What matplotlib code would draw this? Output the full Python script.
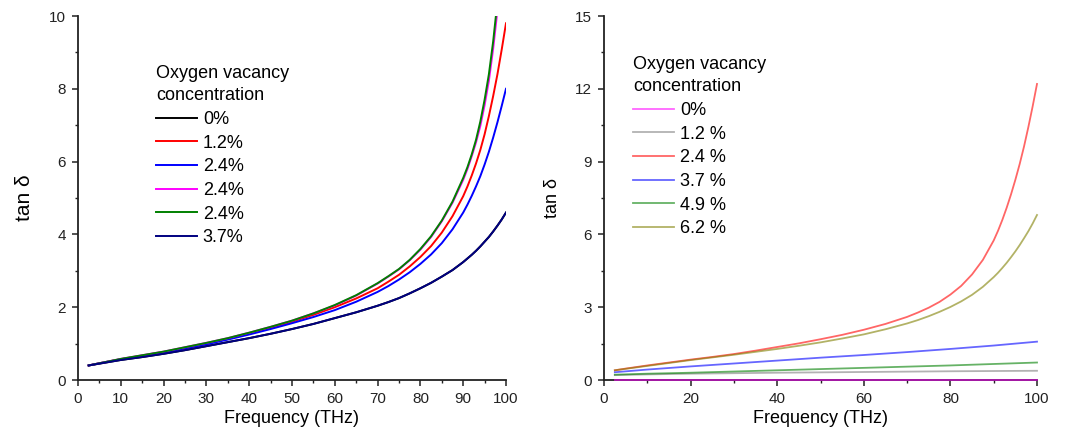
import matplotlib
matplotlib.use("Agg")
import matplotlib.pyplot as plt
from matplotlib.ticker import MultipleLocator

plt.rcParams['font.family'] = ['Liberation Sans', 'DejaVu Sans']

# ---------------- Left panel data ----------------
freq_dense = [2.5, 5, 10, 15, 20, 25, 30, 35, 40, 45, 50, 55, 60, 65, 70, 72.5, 75, 77.5,
              80, 82.5, 85, 87.5, 90, 91, 92, 93, 94, 95, 96, 97, 98, 99, 100]
freq_dense_short = freq_dense[:-2]   # curves that leave the top of the plot

left_labels = ["0%", "1.2%", "2.4%", "2.4%", "2.4%", "3.7%"]
left_colors = ["#000000", "#ff0000", "#0000ff", "#ff00ff", "#008000", "#000080"]

tan_l_0 = [0.40, 0.45, 0.55, 0.63, 0.72, 0.82, 0.93, 1.04, 1.15, 1.27, 1.40, 1.54, 1.70, 1.86,
           2.04, 2.14, 2.25, 2.38, 2.52, 2.67, 2.84, 3.02, 3.24, 3.34, 3.44, 3.55, 3.67, 3.80,
           3.93, 4.08, 4.24, 4.41, 4.60]
tan_l_12 = [0.40, 0.46, 0.57, 0.67, 0.77, 0.88, 1.00, 1.13, 1.28, 1.43, 1.60, 1.79, 2.00, 2.24,
            2.52, 2.70, 2.89, 3.12, 3.38, 3.68, 4.05, 4.50, 5.05, 5.32, 5.62, 5.95, 6.32, 6.75,
            7.25, 7.80, 8.40, 9.08, 9.80]
tan_l_24a = [0.40, 0.46, 0.57, 0.66, 0.76, 0.87, 0.98, 1.11, 1.25, 1.40, 1.56, 1.73, 1.92, 2.15,
             2.42, 2.58, 2.76, 2.96, 3.19, 3.45, 3.76, 4.14, 4.60, 4.82, 5.06, 5.32, 5.60, 5.92,
             6.27, 6.66, 7.08, 7.53, 8.00]
tan_l_24b = [0.40, 0.46, 0.58, 0.68, 0.78, 0.90, 1.02, 1.15, 1.30, 1.46, 1.63, 1.83, 2.05, 2.32,
             2.65, 2.84, 3.04, 3.29, 3.58, 3.93, 4.36, 4.87, 5.50, 5.80, 6.15, 6.53, 6.98, 7.55,
             8.22, 9.10, 10.15]
tan_l_24c = [0.40, 0.46, 0.58, 0.68, 0.78, 0.90, 1.02, 1.15, 1.30, 1.46, 1.63, 1.83, 2.06, 2.33,
             2.66, 2.85, 3.05, 3.30, 3.60, 3.95, 4.38, 4.90, 5.55, 5.85, 6.20, 6.60, 7.10, 7.70,
             8.40, 9.30, 10.40]
tan_l_37 = list(tan_l_0)

left_series = [
    (freq_dense, tan_l_0),
    (freq_dense, tan_l_12),
    (freq_dense, tan_l_24a),
    (freq_dense_short, tan_l_24b),
    (freq_dense_short, tan_l_24c),
    (freq_dense, tan_l_37),
]

# ---------------- Right panel data ----------------
freq_coarse = [2.5, 10, 20, 30, 40, 50, 60, 70, 80, 90, 100]
right_labels = ["0%", "1.2 %", "2.4 %", "3.7 %", "4.9 %", "6.2 %"]
right_colors = ["#ff00ff", "#808080", "#ff0000", "#0000ff", "#008000", "#808000"]

tan_r_0 = [0.0] * 11
tan_r_12 = [0.20, 0.23, 0.26, 0.28, 0.30, 0.315, 0.33, 0.345, 0.36, 0.37, 0.38]
tan_r_24 = [0.40, 0.47, 0.60, 0.72, 0.84, 0.95, 1.07, 1.21, 1.36, 1.51, 1.68, 1.86, 2.07, 2.31,
            2.60, 2.78, 2.98, 3.22, 3.52, 3.88, 4.35, 4.95, 5.75, 6.15, 6.60, 7.10, 7.65, 8.25,
            8.90, 9.62, 10.42, 11.28, 12.20]
tan_r_37 = [0.32, 0.43, 0.56, 0.68, 0.80, 0.92, 1.03, 1.15, 1.28, 1.42, 1.58]
tan_r_49 = [0.22, 0.26, 0.30, 0.35, 0.40, 0.45, 0.50, 0.55, 0.60, 0.66, 0.72]
tan_r_62 = [0.40, 0.46, 0.58, 0.70, 0.82, 0.93, 1.04, 1.16, 1.28, 1.41, 1.55, 1.71, 1.88, 2.09,
            2.33, 2.47, 2.63, 2.81, 3.01, 3.24, 3.51, 3.84, 4.24, 4.42, 4.62, 4.83, 5.06, 5.30,
            5.56, 5.84, 6.13, 6.45, 6.80]

right_series = [
    (freq_coarse, tan_r_0),
    (freq_coarse, tan_r_12),
    (freq_dense, tan_r_24),
    (freq_coarse, tan_r_37),
    (freq_coarse, tan_r_49),
    (freq_dense, tan_r_62),
]

# ---------------- Figure ----------------
W, H = 1066, 443
fig = plt.figure(figsize=(W / 100, H / 100), dpi=100)

def px_axes(x0, x1, ytop, ybot):
    return fig.add_axes([x0 / W, 1 - ybot / H, (x1 - x0) / W, (ybot - ytop) / H])

axL = px_axes(78, 506, 16, 380)
axR = px_axes(604, 1037, 16, 380)

def style(ax):
    for s in ("top", "right"):
        ax.spines[s].set_visible(False)
    for s in ("left", "bottom"):
        ax.spines[s].set_linewidth(1.3)
        ax.spines[s].set_color("#222222")
    ax.tick_params(which="major", direction="out", length=4.5, width=1.1, labelsize=11,
                   pad=4, colors="#222222")
    ax.tick_params(which="minor", direction="out", length=2.5, width=1.0, colors="#222222")

# Left panel
for (fx, fy), lab, col in zip(left_series, left_labels, left_colors):
    axL.plot(fx, fy, color=col, lw=1.4, label=lab)
axL.set_xlim(0, 100)
axL.set_ylim(0, 10)
axL.xaxis.set_major_locator(MultipleLocator(10))
axL.xaxis.set_minor_locator(MultipleLocator(5))
axL.yaxis.set_major_locator(MultipleLocator(2))
axL.yaxis.set_minor_locator(MultipleLocator(1))
style(axL)
axL.set_xlabel("Frequency (THz)", fontsize=13, labelpad=3)
axL.set_ylabel("tan δ", fontsize=15, labelpad=11)
legL = axL.legend(title="Oxygen vacancy\nconcentration", loc="upper left",
                  bbox_to_anchor=(0.165, 0.885), frameon=False, alignment="left",
                  fontsize=13, title_fontsize=13, handlelength=2.3, handletextpad=0.3,
                  labelspacing=0.37, borderaxespad=0)
legL.get_title().set_linespacing(1.4)

# Right panel
for (fx, fy), lab, col in zip(right_series, right_labels, right_colors):
    axR.plot(fx, fy, color=col, lw=1.3, alpha=0.6, label=lab, clip_on=False, zorder=3)
axR.set_xlim(0, 100)
axR.set_ylim(0, 15)
axR.xaxis.set_major_locator(MultipleLocator(20))
axR.xaxis.set_minor_locator(MultipleLocator(10))
axR.yaxis.set_major_locator(MultipleLocator(3))
axR.yaxis.set_minor_locator(MultipleLocator(1.5))
style(axR)
axR.set_xlabel("Frequency (THz)", fontsize=13, labelpad=3)
axR.set_ylabel("tan δ", fontsize=13, labelpad=10)
legR = axR.legend(title="Oxygen vacancy\nconcentration", loc="upper left",
                  bbox_to_anchor=(0.05, 0.91), frameon=False, alignment="left",
                  fontsize=13, title_fontsize=13, handlelength=2.3, handletextpad=0.3,
                  labelspacing=0.37, borderaxespad=0)
legR.get_title().set_linespacing(1.4)

fig.savefig("out.png", dpi=100)
